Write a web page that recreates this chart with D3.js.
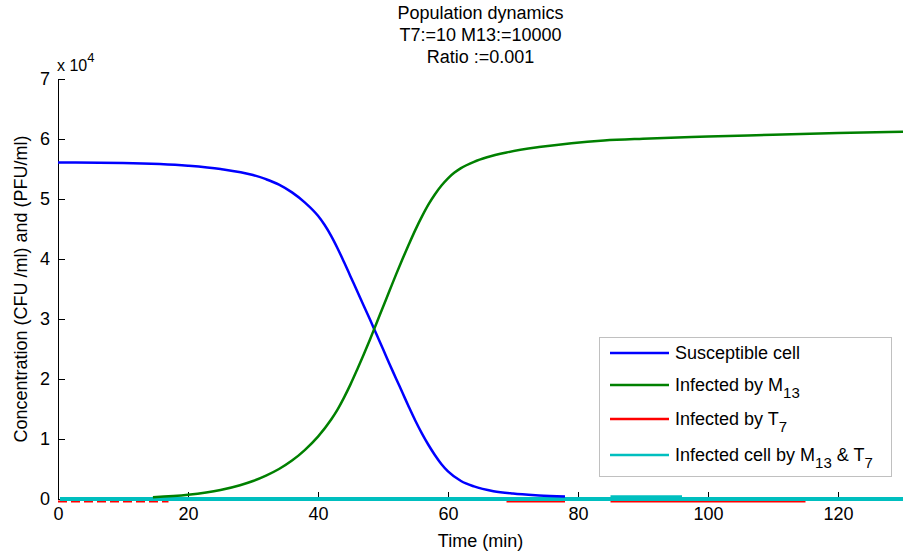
<!DOCTYPE html>
<html lang="en">
    <head>
        <title>Population dynamics</title>
        <script src="https://d3js.org/d3.v7.min.js"></script>
        <style>
            body { margin: 0; background: #fff; }
            text { font-family: "Liberation Sans", Arial, sans-serif; fill: #000; }
        </style>
    </head>
    <body>
    <div id="mainDiv"></div>

        <script type="text/javascript">
            // values in units of 1e4
            const tSusceptible = [0, 10, 20, 25, 30, 32, 34, 36, 38, 40, 41, 42, 43, 44, 45, 46, 47, 48, 49, 50, 51, 52, 53, 54, 55, 56, 57, 58, 59, 60, 62, 64, 67, 70, 74, 78]
            const susceptible = [5.61, 5.60, 5.555, 5.50, 5.40, 5.33, 5.24, 5.11, 4.94, 4.72, 4.57, 4.39, 4.18, 3.95, 3.71, 3.47, 3.23, 2.99, 2.745, 2.50, 2.25, 2.01, 1.77, 1.53, 1.30, 1.09, 0.90, 0.73, 0.58, 0.46, 0.30, 0.21, 0.13, 0.09, 0.06, 0.04]

            const tM13 = [14.6, 20, 25, 28, 30, 32, 34, 36, 38, 40, 42, 43, 44, 45, 46, 47, 48, 49, 50, 51, 52, 53, 54, 55, 56, 57, 58, 59, 60, 61, 62, 64, 66, 69, 74, 79, 84, 90, 100, 110, 120, 130]
            const infectedM13 = [0.03, 0.07, 0.15, 0.23, 0.30, 0.39, 0.50, 0.64, 0.82, 1.04, 1.32, 1.49, 1.69, 1.91, 2.15, 2.40, 2.66, 2.93, 3.20, 3.47, 3.74, 4.00, 4.25, 4.49, 4.71, 4.91, 5.08, 5.225, 5.345, 5.44, 5.515, 5.62, 5.695, 5.775, 5.865, 5.93, 5.975, 6.005, 6.04, 6.07, 6.10, 6.12]

            // T7 stays at ~0; only a few bits peek out under the cyan line
            const tT7Start = [0, 69, 85]
            const tT7End = [17, 78, 115]
            const infectedT7 = [-0.042, -0.042, -0.042]

            const tBoth = [0.3, 85, 130]
            const infectedBoth = [0, 0.045, 0]

            const xTicks = [0, 20, 40, 60, 80, 100, 120]
            const yTicks = [0, 1, 2, 3, 4, 5, 6, 7]

            const titleLines = ['Population dynamics', 'T7:=10 M13:=10000', 'Ratio :=0.001']

            const width = 903
            const height = 557
            const margins = { top: 79, bottom: 58, left: 58, right: 0 }

            const svg = d3.select('#mainDiv').append('svg')
                .attr('width', width)
                .attr('height', height)

            const x = d3.scaleLinear().domain([0, 130]).range([margins.left, width - margins.right])
            const y = d3.scaleLinear().domain([0, 7]).range([height - margins.bottom, margins.top])

            // title
            svg.append('g').selectAll('text')
                .data(titleLines)
                .join('text')
                .attr('x', (x(0) + x(130)) / 2)
                .attr('y', (d, i) => 19 + i * 22)
                .attr('text-anchor', 'middle')
                .style('font-size', '18px')
                .text(d => d)

            // axes
            const xAxis = svg.append('g')
                .attr('transform', `translate(0, ${y(0)})`)
                .call(d3.axisBottom(x).tickValues(xTicks).tickFormat(d3.format('d')).tickSizeInner(-7).tickSizeOuter(0).tickPadding(8))
            const yAxis = svg.append('g')
                .attr('transform', `translate(${x(0)}, 0)`)
                .call(d3.axisLeft(y).tickValues(yTicks).tickFormat(d3.format('d')).tickSizeInner(-7).tickSizeOuter(0).tickPadding(8))

            ;[xAxis, yAxis].forEach(a => {
                a.selectAll('text').style('font-size', '18px').attr('fill', '#000')
                a.selectAll('line, path').attr('stroke', '#000')
            })

            // exponent
            const expo = svg.append('text').attr('x', 57).attr('y', 71).style('font-size', '16px')
            expo.append('tspan').text('x 10')
            expo.append('tspan').attr('dy', -9).style('font-size', '13px').text('4')

            svg.append('text')
                .attr('x', (x(0) + x(130)) / 2)
                .attr('y', 547)
                .attr('text-anchor', 'middle')
                .style('font-size', '18px')
                .text('Time (min)')

            svg.append('text')
                .attr('transform', `translate(27, ${(y(0) + y(7)) / 2}) rotate(-90)`)
                .attr('text-anchor', 'middle')
                .style('font-size', '18px')
                .text('Concentration (CFU /ml) and (PFU/ml)')

            // lines
            const line = d3.line().x(d => x(d[0])).y(d => y(d[1])).curve(d3.curveMonotoneX)
            const straight = d3.line().x(d => x(d[0])).y(d => y(d[1]))

            // T7 underneath the others
            svg.append('g').selectAll('path')
                .data(tT7Start.map((t, i) => [[t, infectedT7[i]], [tT7End[i], infectedT7[i]]]))
                .join('path')
                .attr('d', straight)
                .attr('fill', 'none').attr('stroke', '#ff0000').attr('stroke-width', 2)
                .attr('stroke-dasharray', (d, i) => i === 0 ? '9,4' : null)

            svg.append('path')
                .datum([[tBoth[0], infectedBoth[0]], [tBoth[2], infectedBoth[2]]])
                .attr('d', straight)
                .attr('fill', 'none').attr('stroke', '#00bfbf').attr('stroke-width', 4)
            svg.append('path')
                .datum([[tBoth[1], infectedBoth[1]], [96, infectedBoth[1]]])
                .attr('d', straight)
                .attr('fill', 'none').attr('stroke', '#00bfbf').attr('stroke-width', 2)

            svg.append('path')
                .datum(tSusceptible.map((t, i) => [t, susceptible[i]]))
                .attr('d', line)
                .attr('fill', 'none').attr('stroke', '#0000ff').attr('stroke-width', 2.5)

            svg.append('path')
                .datum(tM13.map((t, i) => [t, infectedM13[i]]))
                .attr('d', line)
                .attr('fill', 'none').attr('stroke', '#008000').attr('stroke-width', 2.5)

            // legend
            const legendItems = [
                { color: '#0000ff', label: 'Susceptible cell', subs: [] },
                { color: '#008000', label: 'Infected by M', subs: ['13'] },
                { color: '#ff0000', label: 'Infected by T', subs: ['7'] },
                { color: '#00bfbf', label: 'Infected cell by M', subs: ['13', ' & T', '7'] }
            ]
            const legend = svg.append('g')
            legend.append('rect')
                .attr('x', 599.5).attr('y', 337.5).attr('width', 292).attr('height', 139)
                .attr('fill', '#fff').attr('stroke', '#c0c0c0')
            const rowY = [353, 385, 419, 455]
            legendItems.forEach((item, i) => {
                legend.append('line')
                    .attr('x1', 610).attr('x2', 669).attr('y1', rowY[i]).attr('y2', rowY[i])
                    .attr('stroke', item.color).attr('stroke-width', 2.5)
                const t = legend.append('text').attr('x', 675).attr('y', rowY[i] + 6).style('font-size', '18px')
                t.append('tspan').text(item.label)
                item.subs.forEach((s, j) => {
                    if (j % 2 === 0) {
                        t.append('tspan').attr('dy', 7).style('font-size', '15px').text(s)
                    } else {
                        t.append('tspan').attr('dy', -7).text(s)
                    }
                })
            })
        </script>
    </body>
</html>
